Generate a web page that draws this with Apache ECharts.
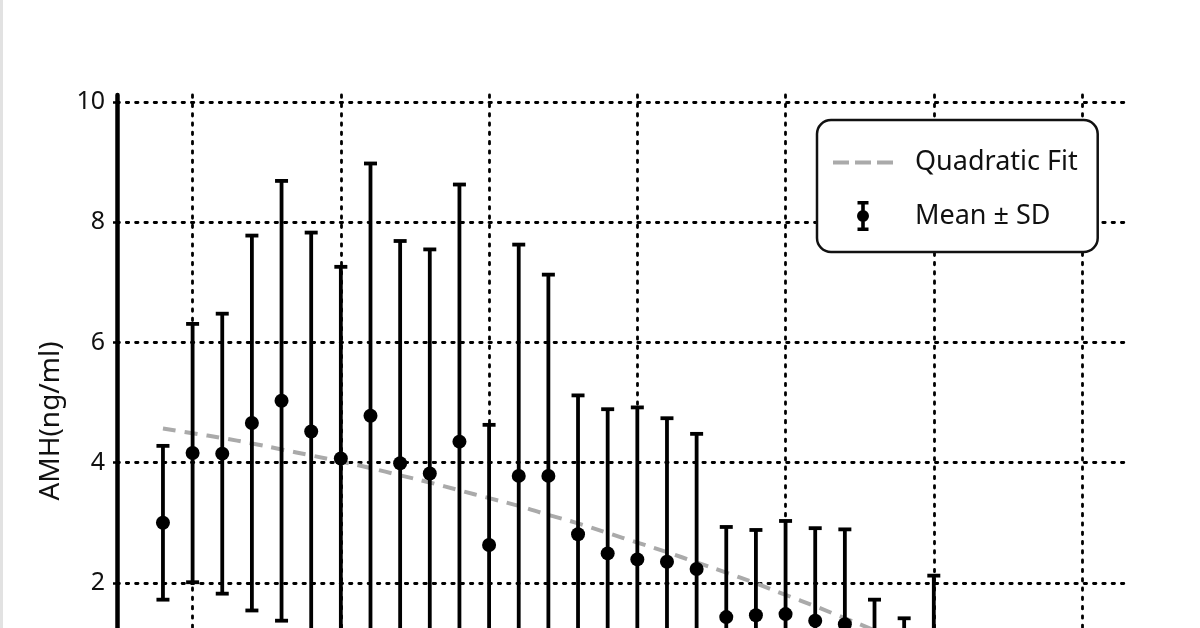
<!DOCTYPE html>
<html>
<head>
<meta charset="utf-8">
<title>AMH by age</title>
<script src="https://cdn.jsdelivr.net/npm/echarts@6/dist/echarts.min.js"></script>
<style>
  html, body { margin: 0; padding: 0; background: #fff; overflow: hidden; }
  #chart-show { width: 1200px; height: 780px; }
  body:before { content: ''; position: absolute; left: 0; top: 0; width: 3px; height: 780px; background: #e2e2e2; z-index: 5; }
</style>
</head>
<body>
<div id="chart-show"></div>
<script>
// ages (one point per year)
var ages = [24, 25, 26, 27, 28, 29, 30, 31, 32, 33, 34, 35, 36, 37, 38, 39, 40, 41, 42, 43, 44, 45, 46, 47, 48, 49, 50];
// AMH mean and SD
var amhMean = [3.00, 4.16, 4.15, 4.66, 5.03, 4.52, 4.07, 4.78, 3.99, 3.82, 4.35, 2.63, 3.78, 3.78, 2.81, 2.49, 2.39, 2.35, 2.23, 1.43, 1.46, 1.48, 1.37, 1.31, 0.95, 0.85, 0.90];
var amhSd = [1.28, 2.15, 2.33, 3.12, 3.66, 3.31, 3.19, 4.20, 3.70, 3.73, 4.28, 2.00, 3.85, 3.35, 2.31, 2.40, 2.53, 2.39, 2.25, 1.50, 1.42, 1.55, 1.54, 1.58, 0.77, 0.56, 1.22];
// dashed quadratic fit, read at each age
var fitValues = [4.57, 4.49, 4.41, 4.32, 4.22, 4.12, 4.02, 3.91, 3.79, 3.67, 3.54, 3.41, 3.28, 3.13, 2.99, 2.83, 2.67, 2.51, 2.34, 2.17, 1.99, 1.80, 1.61, 1.41, 1.21, 1.00, 0.79];
// tick positions
var xTicks = [25, 30, 35, 40, 45, 50, 55];
var yTicks = [0, 2, 4, 6, 8, 10];

window.onload = all;
function all() {
    myErrorChart();
}

function myErrorChart() {
    var chart = echarts.init(document.getElementById('chart-show'));
    var font = "'Noto Sans', 'Noto Sans CJK JP', sans-serif";

    var barData = [], meanData = [], fitData = [];
    for (var i = 0; i < ages.length; i++) {
        barData.push([ages[i], amhMean[i] - amhSd[i], amhMean[i] + amhSd[i]]);
        meanData.push([ages[i], amhMean[i]]);
        fitData.push([ages[i], fitValues[i]]);
    }

    var gridLine = { show: true, lineStyle: { color: '#000', width: 2.8, type: [2.4, 6.9], cap: 'round' } };

    function renderErrorBar(params, api) {
        var x = api.value(0);
        var top = api.coord([x, api.value(2)]);
        var bot = api.coord([x, api.value(1)]);
        var half = 6.5;
        var st = { stroke: '#000', lineWidth: 3.8, fill: null };
        return {
            type: 'group',
            children: [
                { type: 'line', shape: { x1: top[0], y1: top[1], x2: bot[0], y2: bot[1] }, style: st },
                { type: 'line', shape: { x1: top[0] - half, y1: top[1], x2: top[0] + half, y2: top[1] }, style: st },
                { type: 'line', shape: { x1: bot[0] - half, y1: bot[1], x2: bot[0] + half, y2: bot[1] }, style: st }
            ]
        };
    }

    var errIcon = 'path://M0.5 0H11.5V3.4H0.5Z M0.5 26.6H11.5V30H0.5Z M4.2 0H7.8V30H4.2Z M0 15A6 6 0 1 1 12 15A6 6 0 1 1 0 15Z';
    var dashIcon = 'path://M0 0H16V4H0Z M22 0H38V4H22Z M44 0H60V4H44Z';

    var option = {
        animation: false,
        backgroundColor: '#fff',
        grid: { left: 117, right: 72, top: 95, bottom: 77, containLabel: false },
        legend: {
            orient: 'vertical',
            left: 817,
            top: 120,
            padding: [29, 20, 21, 16],
            itemGap: 25,
            itemWidth: 60,
            itemHeight: 30,
            backgroundColor: '#fff',
            borderColor: '#111',
            borderWidth: 2.5,
            borderRadius: 14,
            textStyle: { fontSize: 27, color: '#111', fontFamily: font, padding: [0, 0, 0, 17] },
            data: [
                { name: 'Quadratic Fit', icon: dashIcon, itemStyle: { color: '#aaaaaa' } },
                { name: 'Mean ± SD', icon: errIcon, itemStyle: { color: '#000' } }
            ]
        },
        xAxis: {
            type: 'value',
            min: 22.45,
            max: 56.55,
            axisLine: { show: true, lineStyle: { color: '#000', width: 4 } },
            axisTick: { show: false, customValues: xTicks },
            axisLabel: { customValues: xTicks, fontSize: 25, color: '#111', fontFamily: font },
            splitLine: gridLine
        },
        yAxis: {
            type: 'value',
            min: 0,
            max: 10.12,
            name: 'AMH(ng/ml)',
            nameLocation: 'middle',
            nameGap: 44,
            nameTextStyle: { fontSize: 28, color: '#111', fontFamily: font, padding: [0, 44, 0, 0] },
            axisLine: { show: true, lineStyle: { color: '#000', width: 4.5 } },
            axisTick: { show: true, customValues: yTicks, length: 4, lineStyle: { color: '#000', width: 2.5 } },
            axisLabel: { customValues: yTicks, fontSize: 25, color: '#111', fontFamily: font, margin: 12 },
            splitLine: gridLine
        },
        series: [
            {
                name: 'Quadratic Fit',
                type: 'line',
                data: fitData,
                symbol: 'none',
                smooth: true,
                color: '#aaaaaa',
                lineStyle: { color: '#aaaaaa', width: 4, type: [13, 9] },
                z: 2
            },
            {
                name: 'Mean ± SD',
                type: 'custom',
                data: barData,
                renderItem: renderErrorBar,
                encode: { x: 0, y: [1, 2] },
                itemStyle: { color: '#000' },
                clip: false,
                z: 3
            },
            {
                name: 'Mean ± SD',
                type: 'scatter',
                data: meanData,
                symbol: 'circle',
                symbolSize: 14,
                itemStyle: { color: '#000', opacity: 1 },
                z: 4
            }
        ]
    };
    chart.setOption(option);
    setTimeout(function () {
        window.onresize = function () {
            chart.resize();
        };
    }, 200);
}
</script>
</body>
</html>
